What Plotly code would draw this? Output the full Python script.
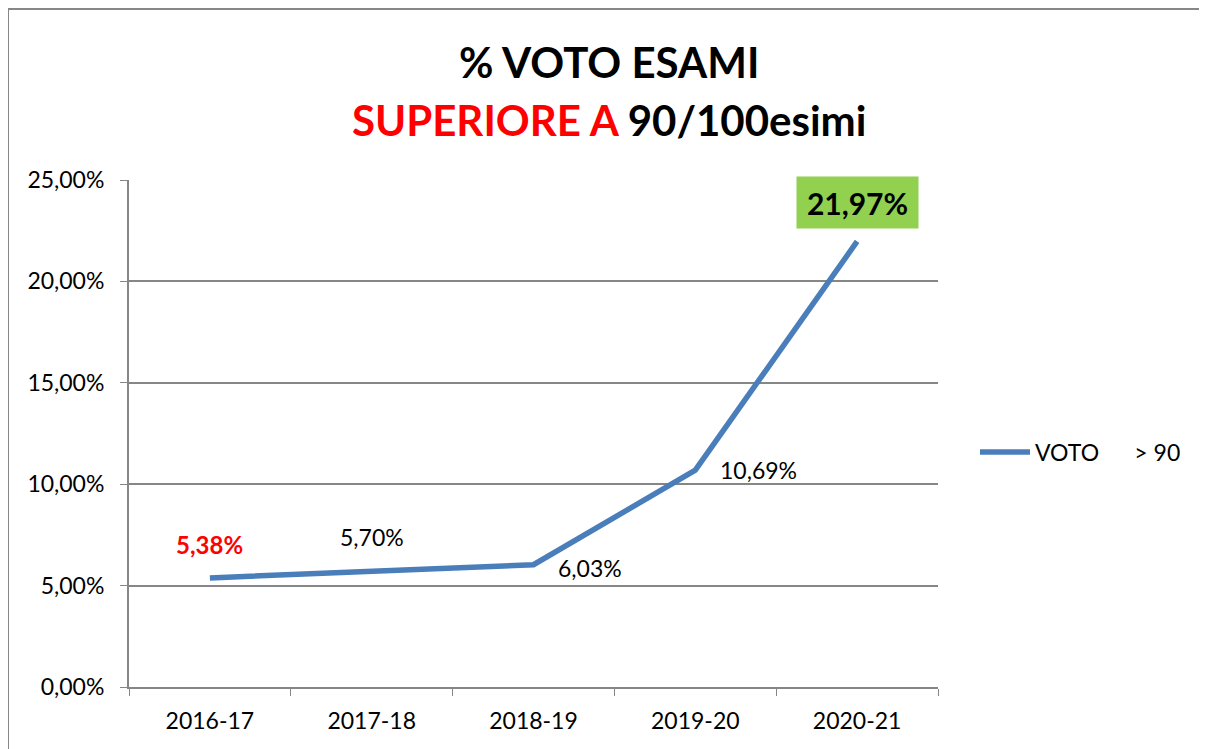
import plotly.graph_objects as go

categories = ["2016-17", "2017-18", "2018-19", "2019-20", "2020-21"]
values = [0.0538, 0.0570, 0.0603, 0.1069, 0.2197]
labels = ["5,38%", "5,70%", "6,03%", "10,69%", "21,97%"]
series_name = "VOTO\u00a0\u00a0\u00a0\u00a0\u00a0\u00a0> 90"

FONT = "Lato, Calibri, Carlito, sans-serif"
BLUE = "#4A7EBB"
GRID = "#868686"

# page has an 8px body margin; work in page pixel coords and subtract it
OFF = 8
W, H = 1207 - OFF, 749 - OFF
L, R, T, B = 129 - OFF, 938 - OFF, 180 - OFF, 687 - OFF
pw, ph = R - L, B - T


def px_x(x):
    return (x - OFF - L) / pw


def px_y(y):
    return (B - (y - OFF)) / ph


fig = go.Figure()
fig.add_trace(go.Scatter(
    x=categories, y=values, mode="lines", name=series_name,
    line=dict(color=BLUE, width=5.5),
    showlegend=True,
))

label_cfg = [
    dict(xshift=0, yshift=33, color="#FF0000", size=24, bold=True),
    dict(xshift=0, yshift=34, color="#000000", size=23, bold=False),
    dict(xshift=56, yshift=-3, color="#000000", size=23, bold=False),
    dict(xshift=63, yshift=0, color="#000000", size=23, bold=False),
    dict(xshift=0, yshift=39, color="#000000", size=30, bold=True),
]
for i, (c, v, t) in enumerate(zip(categories, values, labels)):
    cfg = label_cfg[i]
    txt = f"<b>{t}</b>" if cfg["bold"] else t
    ann = dict(x=c, y=v, xref="x", yref="y", text=txt, showarrow=False,
               xshift=cfg["xshift"], yshift=cfg["yshift"],
               font=dict(color=cfg["color"], size=cfg["size"], family=FONT))
    if i == 4:
        ann.update(bgcolor="#92D050", width=121, height=51, borderpad=0)
    fig.add_annotation(**ann)

fig.add_annotation(x=px_x(609), y=px_y(62), xref="paper", yref="paper",
                   text="<b>% VOTO ESAMI</b>", showarrow=False,
                   font=dict(size=42, color="#000000", family=FONT),
                   xanchor="center", yanchor="middle")
fig.add_annotation(x=px_x(609), y=px_y(120), xref="paper", yref="paper",
                   text="<b><span style='color:#FF0000'>SUPERIORE A</span> 90/100esimi</b>",
                   showarrow=False,
                   font=dict(size=42, color="#000000", family=FONT),
                   xanchor="center", yanchor="middle")

# outer frame
fig.add_shape(type="rect", xref="paper", yref="paper",
              x0=px_x(8), x1=px_x(1200), y0=px_y(9), y1=px_y(770),
              line=dict(color="#878787", width=2), fillcolor="rgba(0,0,0,0)", layer="below")

fig.update_layout(
    width=W, height=H,
    margin=dict(l=L, r=W - R, t=T, b=H - B),
    paper_bgcolor="white", plot_bgcolor="white",
    separators=",.",
    font=dict(family=FONT, size=23, color="#000000"),
    showlegend=True,
    legend=dict(x=px_x(975), y=px_y(452), xanchor="left", yanchor="middle",
                font=dict(size=23, family=FONT, color="#000000"),
                bgcolor="rgba(0,0,0,0)", itemwidth=50),
)
fig.update_xaxes(
    type="category", tickson="boundaries", ticks="outside", ticklen=7,
    tickcolor=GRID, showline=True, linecolor=GRID, linewidth=2,
    showgrid=False, range=[-0.5, 4.5], tickfont=dict(size=23, family=FONT),
    ticklabelstandoff=12,
)
fig.update_yaxes(
    range=[0, 0.25], dtick=0.05, tickformat=".2%", ticks="outside", ticklen=7,
    tickcolor=GRID, showline=True, linecolor=GRID, linewidth=2,
    showgrid=True, gridcolor=GRID, gridwidth=2, zeroline=False,
    tickfont=dict(size=23, family=FONT), ticklabelstandoff=11,
)

fig.write_html("out.html")
